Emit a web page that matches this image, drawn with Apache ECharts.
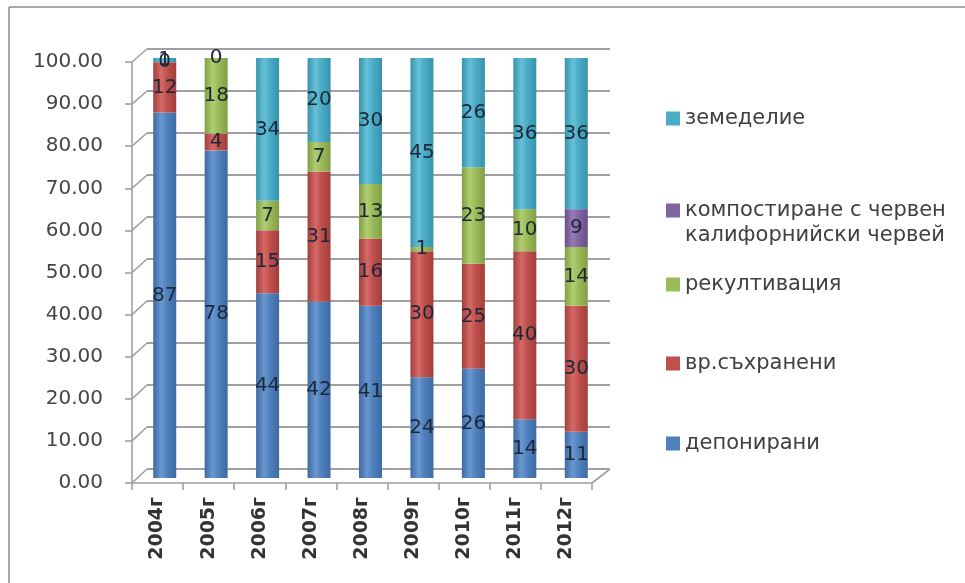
<!DOCTYPE html>
<html>
<head>
<meta charset="utf-8">
<script src="https://cdn.jsdelivr.net/npm/echarts@6/dist/echarts.min.js"></script>
<style>
  html, body { margin: 0; padding: 0; background: #fff; }
  #chart { width: 965px; height: 583px; }
</style>
</head>
<body>
<div id="chart"></div>
<script>
// Годишно разпределение на утайките по начин на оползотворяване, %
const years = ['2004г', '2005г', '2006г', '2007г', '2008г', '2009г', '2010г', '2011г', '2012г'];
const deponirani    = [87, 78, 44, 42, 41, 24, 26, 14, 11];
const vrSahraneni   = [12, 4, 15, 31, 16, 30, 25, 40, 30];
const rekultivaciya = [0, 18, 7, 7, 13, 1, 23, 10, 14];
const kompostirane  = [null, null, null, null, null, null, null, null, 9];
const zemedelie     = [1, 0, 34, 20, 30, 45, 26, 36, 36];
const yMin = 0, yMax = 100, yStep = 10;

const NAME_KOMP = 'компостиране с червен калифорнийски червей';

// Layout: bars sit between the front axis frame and the back wall
const FRONT = { left: 132, top: 62, width: 460, height: 421 };
const BARS  = { left: 139, top: 58, width: 463, height: 420 };
const WALL  = { left: 147, top: 49, width: 463, height: 420 };
const GRIDLINE = '#a0a0a0';
const FONT = 'DejaVu Sans';

function cyl(base, light, dark) {
  return {
    type: 'linear', x: 0, y: 0, x2: 1, y2: 0,
    colorStops: [
      { offset: 0, color: dark },
      { offset: 0.35, color: light },
      { offset: 0.6, color: base },
      { offset: 1, color: dark }
    ]
  };
}

const palette = {
  'депонирани':   { base: '#4f81bd', light: '#6a97d0', dark: '#3d6aa3' },
  'вр.съхранени': { base: '#c0504d', light: '#d56a66', dark: '#a13f3c' },
  'рекултивация': { base: '#9bbb59', light: '#b0cd72', dark: '#809f45' },
  [NAME_KOMP]:    { base: '#8064a2', light: '#967bb8', dark: '#684f88' },
  'земеделие':    { base: '#4bacc6', light: '#66c0d8', dark: '#3793ac' }
};

function barSeries(name, values) {
  const p = palette[name];
  return {
    type: 'bar',
    name: name,
    stack: 'total',
    xAxisIndex: 0,
    yAxisIndex: 0,
    barWidth: 23,
    data: values,
    itemStyle: { color: cyl(p.base, p.light, p.dark) },
    label: {
      show: true,
      position: 'inside',
      fontFamily: FONT,
      fontSize: 20,
      color: '#1c2838',
      formatter: (d) => (d.value === null || d.value === undefined ? '' : String(d.value))
    },
    emphasis: { disabled: true }
  };
}

// The long name wraps onto two lines; an empty leading line keeps the
// square marker level with the first line of text.
function legendText(n) {
  return n === NAME_KOMP ? '\nкомпостиране с червен\nкалифорнийски червей' : n;
}

function legendAt(name, top) {
  return {
    data: [{ name: name, itemStyle: { color: palette[name].base } }],
    left: 661,
    top: top,
    orient: 'vertical',
    icon: 'rect',
    itemWidth: 14,
    itemHeight: 14,
    itemGap: 0,
    selectedMode: false,
    formatter: legendText,
    textStyle: { fontFamily: FONT, fontSize: 21, color: '#404040', lineHeight: 25 }
  };
}

const chart = echarts.init(document.getElementById('chart'), null, { renderer: 'canvas' });

chart.setOption({
  backgroundColor: '#ffffff',
  animation: false,
  grid: [
    Object.assign({ outerBoundsMode: 'none', containLabel: false }, BARS),
    Object.assign({ outerBoundsMode: 'none', containLabel: false }, FRONT),
    Object.assign({ outerBoundsMode: 'none', containLabel: false }, WALL)
  ],
  xAxis: [
    { gridIndex: 0, type: 'category', data: years, show: false },
    {
      gridIndex: 1, type: 'category', data: years,
      axisLine: { show: true, lineStyle: { color: GRIDLINE, width: 1.6 } },
      axisTick: { show: true, length: 7, interval: 0, lineStyle: { color: GRIDLINE, width: 1.6 } },
      axisLabel: {
        interval: 0, rotate: 90, margin: 14,
        fontFamily: FONT, fontSize: 19, fontWeight: 'bold', color: '#333333'
      },
      splitLine: { show: false }
    },
    { gridIndex: 2, type: 'category', data: years, show: false }
  ],
  yAxis: [
    { gridIndex: 0, type: 'value', min: yMin, max: yMax, show: false },
    {
      gridIndex: 1, type: 'value', min: yMin, max: yMax, interval: yStep,
      axisLine: { show: true, lineStyle: { color: GRIDLINE, width: 1.6 } },
      axisTick: { show: true, length: 7, lineStyle: { color: GRIDLINE, width: 1.6 } },
      axisLabel: {
        margin: 29, fontFamily: FONT, fontSize: 20, color: '#454545',
        formatter: (v) => v.toFixed(2)
      },
      splitLine: { show: false }
    },
    {
      gridIndex: 2, type: 'value', min: yMin, max: yMax, interval: yStep,
      axisLine: { show: false }, axisTick: { show: false }, axisLabel: { show: false },
      splitLine: { show: true, lineStyle: { color: GRIDLINE, width: 1.8 } }
    }
  ],
  legend: [
    legendAt('земеделие', 101),
    legendAt(NAME_KOMP, 168),
    legendAt('рекултивация', 267),
    legendAt('вр.съхранени', 346),
    legendAt('депонирани', 426)
  ],
  series: [
    barSeries('депонирани', deponirani),
    barSeries('вр.съхранени', vrSahraneni),
    barSeries('рекултивация', rekultivaciya),
    barSeries(NAME_KOMP, kompostirane),
    barSeries('земеделие', zemedelie)
  ]
});

// Side wall and floor edges joining the front axis to the back wall, plus the page frame
function wallEdges() {
  const els = [];
  const lineStyle = { stroke: GRIDLINE, lineWidth: 1.6 };
  for (let v = yMin; v <= yMax; v += yStep) {
    const yf = chart.convertToPixel({ yAxisIndex: 1 }, v);
    const yb = chart.convertToPixel({ yAxisIndex: 2 }, v);
    els.push({
      type: 'line', silent: true, z: -1,
      shape: { x1: FRONT.left, y1: yf, x2: WALL.left, y2: yb },
      style: lineStyle
    });
  }
  const yf0 = chart.convertToPixel({ yAxisIndex: 1 }, yMin);
  const yb0 = chart.convertToPixel({ yAxisIndex: 2 }, yMin);
  els.push({
    type: 'line', silent: true, z: -1,
    shape: { x1: FRONT.left + FRONT.width, y1: yf0, x2: WALL.left + WALL.width, y2: yb0 },
    style: lineStyle
  });
  els.push({
    type: 'line', silent: true,
    shape: { x1: 9, y1: 7, x2: 965, y2: 7 },
    style: { stroke: '#8c8c8c', lineWidth: 1.5 }
  });
  els.push({
    type: 'line', silent: true,
    shape: { x1: 9, y1: 7, x2: 9, y2: 583 },
    style: { stroke: '#8c8c8c', lineWidth: 1.5 }
  });
  return els;
}

chart.setOption({ graphic: { elements: wallEdges() } });
</script>
</body>
</html>
